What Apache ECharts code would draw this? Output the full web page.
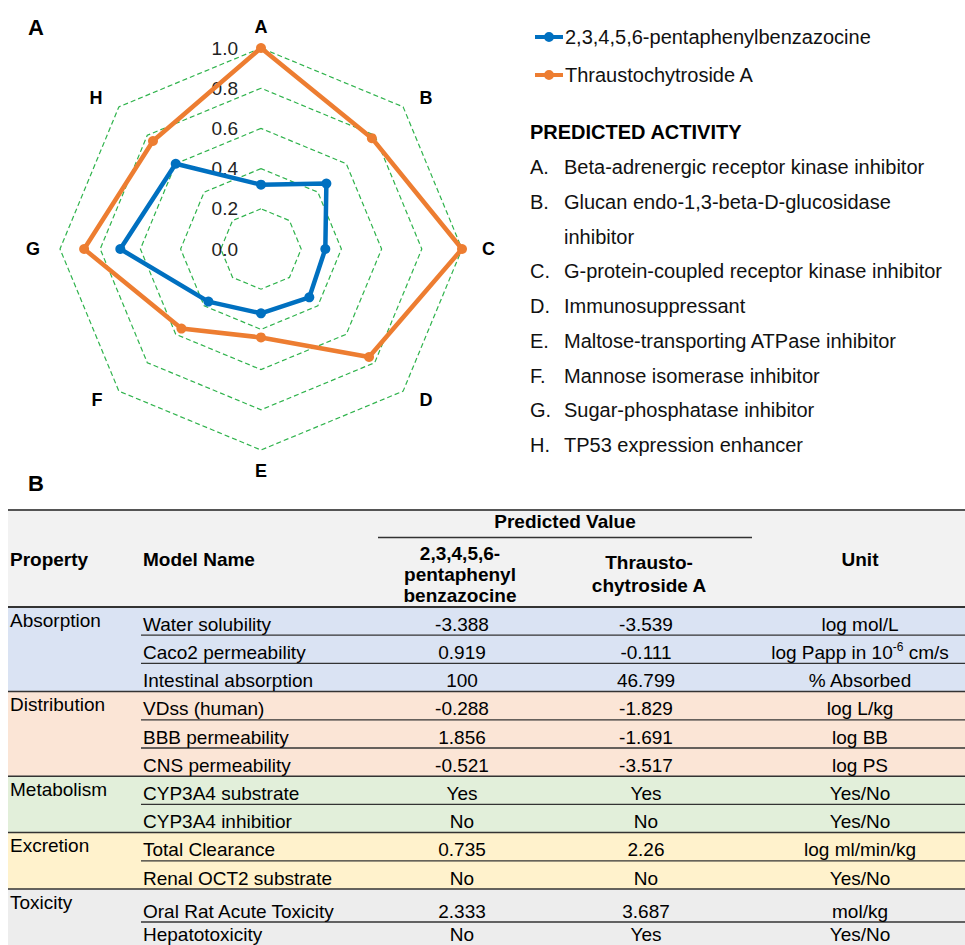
<!DOCTYPE html>
<html><head><meta charset="utf-8">
<script src="https://cdn.jsdelivr.net/npm/echarts@6/dist/echarts.min.js"></script>
<style>html,body{margin:0;padding:0;background:#fff}#c{width:965px;height:945px}</style>
</head><body><div id="c"></div>
<script>
// ---------- data ----------
const axisNames = ['A', 'B', 'C', 'D', 'E', 'F', 'G', 'H'];
const seriesNames = ['2,3,4,5,6-pentaphenylbenzazocine', 'Thraustochytroside A'];
const valuesBenzazocine = [0.32, 0.46, 0.32, 0.34, 0.32, 0.37, 0.70, 0.60];
const valuesThrausto = [1.00, 0.78, 1.00, 0.76, 0.44, 0.56, 0.88, 0.76];
const activityTitle = 'PREDICTED ACTIVITY';
const activityLetters = ['A.', 'B.', 'C.', 'D.', 'E.', 'F.', 'G.', 'H.'];
const activityTexts = [
  'Beta-adrenergic receptor kinase inhibitor',
  'Glucan endo-1,3-beta-D-glucosidase\ninhibitor',
  'G-protein-coupled receptor kinase inhibitor',
  'Immunosuppressant',
  'Maltose-transporting ATPase inhibitor',
  'Mannose isomerase inhibitor',
  'Sugar-phosphatase inhibitor',
  'TP53 expression enhancer'
];
const headerLabels = ['Property', 'Model Name', 'Predicted Value', '2,3,4,5,6-\npentaphenyl\nbenzazocine', 'Thrausto-\nchytroside A', 'Unit'];
const tableGroups = ['Absorption', 'Distribution', 'Metabolism', 'Excretion', 'Toxicity'];
const groupSizes = [3, 3, 2, 2, 2];
const modelNames = ['Water solubility', 'Caco2 permeability', 'Intestinal absorption', 'VDss (human)', 'BBB permeability', 'CNS permeability', 'CYP3A4 substrate', 'CYP3A4 inhibitior', 'Total Clearance', 'Renal OCT2 substrate', 'Oral Rat Acute Toxicity', 'Hepatotoxicity'];
const predBenzazocine = ['-3.388', '0.919', '100', '-0.288', '1.856', '-0.521', 'Yes', 'No', '0.735', 'No', '2.333', 'No'];
const predThrausto = ['-3.539', '-0.111', '46.799', '-1.829', '-1.691', '-3.517', 'Yes', 'No', '2.26', 'No', '3.687', 'Yes'];
const units = ['log mol/L', 'log Papp in 10{sup|-6} cm/s', '% Absorbed', 'log L/kg', 'log BB', 'log PS', 'Yes/No', 'Yes/No', 'log ml/min/kg', 'Yes/No', 'mol/kg', 'Yes/No'];

// ---------- style / layout ----------
const FONT = '"Liberation Sans", Arial, Helvetica, sans-serif';
const BLUE = '#0070c0', ORANGE = '#ed7d31', GREEN = '#2fb34c';
const groupColors = ['#dae3f3', '#fbe5d6', '#e2efda', '#fff2cc', '#ededed'];
const T = { left: 8, right: 965, top: 510, headBottom: 607, rowH: 28.2, toxRowH: [33, 30], sepX: 141 };
const colX = { prop: 10, model: 143, c1: 462, c2: 646, unit: 860, h1: 460, h2: 649 };
// radar drawn clockwise: A at top, B upper right ...
const radarOrder = [0, 7, 6, 5, 4, 3, 2, 1];

const g = [];
function txt(x, y, text, o) {
  o = o || {};
  g.push({ type: 'text', x: x, y: y, z: 10, style: Object.assign({
    text: text, fontFamily: FONT, fontSize: 19, fill: '#000',
    align: 'left', verticalAlign: 'middle'
  }, o) });
}
function line(x1, y1, x2, y2, w, c) {
  g.push({ type: 'line', z: 5, shape: { x1: x1, y1: y1, x2: x2, y2: y2 }, style: { stroke: c || '#333', lineWidth: w || 1.3 } });
}
function rect(x, y, w, h, c) {
  g.push({ type: 'rect', z: 1, shape: { x: x, y: y, width: w, height: h }, style: { fill: c } });
}

// panel labels
txt(28, 27, 'A', { fontSize: 22, fontWeight: 'bold' });
txt(28, 483, 'B', { fontSize: 22, fontWeight: 'bold' });

// activity list
txt(530, 132, activityTitle, { fontSize: 20, fontWeight: 'bold' });
let ay = 167;
const lh = 34.75;
activityTexts.forEach((t, i) => {
  const n = t.split('\n').length;
  txt(530, ay, activityLetters[i], { fontSize: 20, fill: '#111' });
  txt(564, ay - lh / 2, t, { fontSize: 20, fill: '#111', lineHeight: lh, verticalAlign: 'top' });
  ay += n * lh;
});

// table
const W = T.right - T.left;
rect(T.left, T.top, W, T.headBottom - T.top, '#f2f2f2');
const rowBot = [];
let y = T.headBottom, r = 0;
tableGroups.forEach((grp, gi) => {
  const gTop = y;
  const last = gi === tableGroups.length - 1;
  for (let k = 0; k < groupSizes[gi]; k++) {
    const h = last ? T.toxRowH[k] : T.rowH;
    y += h; rowBot[r] = y; r++;
  }
  rect(T.left, gTop, W, y - gTop + (last ? 20 : 0), groupColors[gi]);
  txt(colX.prop, gTop + 13, grp);
  if (gi > 0) line(T.left, gTop, T.right, gTop, 1.5, '#333');
});
let idx = 0;
groupSizes.forEach((n, gi) => {
  for (let k = 0; k < n; k++) {
    const last = gi === groupSizes.length - 1;
    if ((k < n - 1 || last) && rowBot[idx] < 945) line(T.sepX, rowBot[idx], T.right, rowBot[idx], 1.3, '#333');
    idx++;
  }
});
line(T.left, T.top, T.right, T.top, 2, '#555');
line(T.left, T.headBottom, T.right, T.headBottom, 2, '#333');
line(378, 537.5, 752, 537.5, 1.3, '#333');
const hb = { fontWeight: 'bold', fontSize: 19 };
txt(colX.prop, 559, headerLabels[0], hb);
txt(colX.model, 559, headerLabels[1], hb);
txt(565, 521, headerLabels[2], Object.assign({ align: 'center' }, hb));
txt(colX.h1, 574, headerLabels[3], Object.assign({ align: 'center', lineHeight: 21 }, hb));
txt(colX.h2, 574, headerLabels[4], Object.assign({ align: 'center', lineHeight: 23 }, hb));
txt(colX.unit, 559, headerLabels[5], Object.assign({ align: 'center' }, hb));
modelNames.forEach((m, i) => {
  const ty = Math.min(rowBot[i] - 11, 934);
  txt(colX.model, ty, m);
  txt(colX.c1, ty, predBenzazocine[i], { align: 'center' });
  txt(colX.c2, ty, predThrausto[i], { align: 'center' });
  txt(colX.unit, ty, units[i], { align: 'center', rich: { sup: { fontSize: 12, fontFamily: FONT, padding: [0, 0, 10, 0] } } });
});

// ---------- chart ----------
const chart = echarts.init(document.getElementById('c'), null, { renderer: 'svg' });
chart.setOption({
  animation: false,
  legend: {
    orient: 'vertical', left: 530, top: 22, itemWidth: 28, itemHeight: 10, itemGap: 18,
    icon: 'path://M0,3.1 L28,3.1 L28,6.9 L0,6.9 Z M9,5 A5,5 0 1,1 19,5 A5,5 0 1,1 9,5 Z',
    textStyle: { fontFamily: FONT, fontSize: 20, color: '#111', padding: [0, 0, 0, -3] },
    data: seriesNames
  },
  radar: {
    center: [261, 249], radius: 201, startAngle: 90, splitNumber: 5, shape: 'polygon',
    indicator: radarOrder.map((k, i) => i === 0
      ? { name: axisNames[k], min: 0, max: 1, axisLabel: { show: true } }
      : { name: axisNames[k], min: 0, max: 1 }),
    axisName: { color: '#000', fontWeight: 'bold', fontSize: 18, fontFamily: FONT, padding: [0, 8, 0, 8] },
    nameGap: 12,
    splitLine: { lineStyle: { color: GREEN, type: [5, 3], width: 1.2 } },
    splitArea: { show: false },
    axisLine: { show: false },
    axisTick: { show: false },
    axisLabel: { show: false, fontFamily: FONT, fontSize: 19, color: '#222', margin: 23, formatter: v => v.toFixed(1) }
  },
  series: [{
    type: 'radar', symbol: 'circle', symbolSize: 10,
    data: [
      { name: seriesNames[0], value: radarOrder.map(k => valuesBenzazocine[k]), lineStyle: { color: BLUE, width: 4.5 }, itemStyle: { color: BLUE } },
      { name: seriesNames[1], value: radarOrder.map(k => valuesThrausto[k]), lineStyle: { color: ORANGE, width: 4.5 }, itemStyle: { color: ORANGE } }
    ]
  }],
  graphic: g
});
</script></body></html>
